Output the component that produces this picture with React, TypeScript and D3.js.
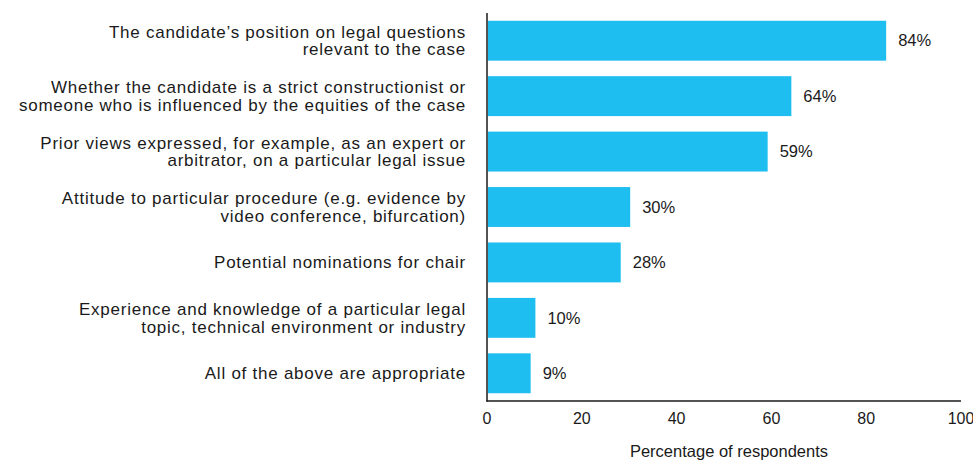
import React from "react";
import * as d3 from "d3";

const categories: string[][] = [
  ["The candidate\u2019s position on legal questions", "relevant to the case"],
  ["Whether the candidate is a strict constructionist or", "someone who is influenced by the equities of the case"],
  ["Prior views expressed, for example, as an expert or", "arbitrator, on a particular legal issue"],
  ["Attitude to particular procedure (e.g. evidence by", "video conference, bifurcation)"],
  ["Potential nominations for chair"],
  ["Experience and knowledge of a particular legal", "topic, technical environment or industry"],
  ["All of the above are appropriate"],
];
const values: number[] = [84, 64, 59, 30, 28, 10, 9];
const xTicks: number[] = [0, 20, 40, 60, 80, 100];
const axisTitle = "Percentage of respondents";

const W = 973;
const H = 461;
const FONT = "'Liberation Sans', Arial, Helvetica, sans-serif";
const BAR = "#1fbef0";
const INK = "#1a1a1a";

export default function App() {
  const x = d3.scaleLinear().domain([0, 100]).range([487, 961]);
  const y = d3
    .scaleBand<number>()
    .domain(d3.range(values.length))
    .range([13, 401])
    .paddingInner(0.28)
    .paddingOuter(0.14);
  const lineH = 17.5;

  return (
    <div style={{ position: "absolute", left: 0, top: 0 }}>
      <svg width={W} height={H} style={{ display: "block", background: "#fff" }} fontFamily={FONT}>
        {values.map((v, i) => {
          const y0 = y(i)!;
          const cy = y0 + y.bandwidth() / 2;
          return (
            <g key={i}>
              <rect x={x(0) + 1} y={y0} width={x(v) - x(0)} height={y.bandwidth()} fill={BAR} />
              <text x={x(v) + 13} y={cy} dy="0.35em" fontSize={16.5} fill={INK}>
                {v}%
              </text>
            </g>
          );
        })}
        {categories.map((lines, i) => {
          const cy = y(i)! + y.bandwidth() / 2;
          const start = cy - ((lines.length - 1) * lineH) / 2;
          return (
            <text key={i} x={466} textAnchor="end" fontSize={17} letterSpacing={0.75} fill={INK}>
              {lines.map((l, j) => (
                <tspan key={j} x={466} y={start + j * lineH} dy="0.35em">
                  {l}
                </tspan>
              ))}
            </text>
          );
        })}
        <line x1={x(0)} x2={x(0)} y1={13} y2={401.5} stroke={INK} strokeWidth={1.5} />
        <line x1={x(0) - 0.75} x2={x(100)} y1={401} y2={401} stroke={INK} strokeWidth={1.5} />
        {xTicks.map((t) => (
          <text key={t} x={x(t)} y={424} textAnchor="middle" fontSize={16} fill={INK}>
            {t}
          </text>
        ))}
        <text x={729} y={457} textAnchor="middle" fontSize={16.5} fill={INK}>
          {axisTitle}
        </text>
      </svg>
    </div>
  );
}
